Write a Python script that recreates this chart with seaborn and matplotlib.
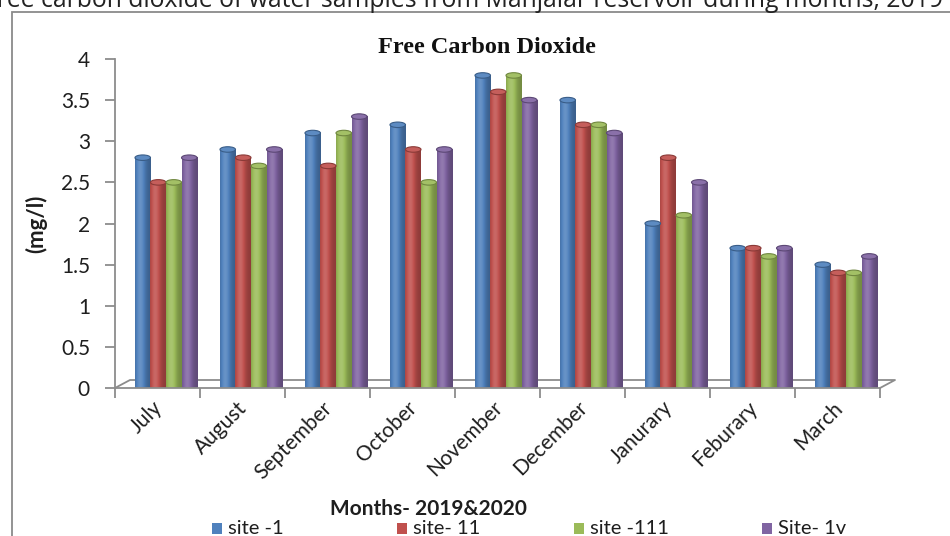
import numpy as np
import pandas as pd
import seaborn as sns
import matplotlib
matplotlib.use("Agg")
import matplotlib.pyplot as plt
from matplotlib.patches import Ellipse, Rectangle
from matplotlib.lines import Line2D
from matplotlib.colors import to_rgb

# ---- data -------------------------------------------------------------
months = ["July", "August", "September", "October", "November",
          "December", "Janurary", "Feburary", "March"]
sites = ["site -1", "site- 11", "site -111", "Site- 1v"]
site_1 = [2.8, 2.9, 3.1, 3.2, 3.8, 3.5, 2.0, 1.7, 1.5]
site_11 = [2.5, 2.8, 2.7, 2.9, 3.6, 3.2, 2.8, 1.7, 1.4]
site_111 = [2.5, 2.7, 3.1, 2.5, 3.8, 3.2, 2.1, 1.6, 1.4]
site_1v = [2.8, 2.9, 3.3, 2.9, 3.5, 3.1, 2.5, 1.7, 1.6]
y_ticks = [0, 0.5, 1, 1.5, 2, 2.5, 3, 3.5, 4]
y_tick_labels = ["0", "0.5", "1", "1.5", "2", "2.5", "3", "3.5", "4"]
palette = ["#4F81BD", "#C0504D", "#9BBB59", "#8064A2"]

df = pd.DataFrame({
    "month": months * 4,
    "site": np.repeat(sites, len(months)),
    "value": site_1 + site_11 + site_111 + site_1v,
})

sns.set_theme(style="white")
plt.rcParams["font.family"] = ["Lato", "DejaVu Sans"]

W, H = 950, 536
fig = plt.figure(figsize=(W / 100, H / 100), dpi=100)
fig.patch.set_facecolor("white")
ink = "#1e1e1e"

# caption line running above the chart frame
fig.text(-16 / W, 1 - 7 / H,
         "Free carbon dioxide of water samples from Manjalar reservoir during months, 2019",
         family=["Open Sans", "DejaVu Sans"], fontsize=17.8, color="#222222",
         ha="left", va="baseline")

# chart frame
fig.patches.append(Rectangle((12 / W, -0.2), 1.2, (H - 12) / H + 0.2,
                             transform=fig.transFigure, fill=False,
                             ec="#8a8a8a", lw=1.3))

ax = fig.add_axes([115 / W, (H - 388) / H, 765 / W, (388 - 59) / H])
sns.barplot(data=df, x="month", y="value", hue="site", palette=palette,
            width=0.73, saturation=1, legend=False, ax=ax, zorder=3)

XL = (-0.6, 8.4)
YL = (0, 4)
ax.set_xlim(*XL)
ax.set_ylim(*YL)

px_x = 85.0                # pixels per category
px_y = (388 - 59) / 4.0    # pixels per unit


def shade(base, f):
    base = np.array(to_rgb(base))
    if f < 1:
        return base * f
    return base + (1 - base) * (f - 1)


# cylinder shading on each bar
t = np.linspace(0, 1, 64)
prof = 0.74 + 0.40 * np.exp(-((t - 0.33) / 0.33) ** 2)
for p in list(ax.patches):
    x0, w, h = p.get_x(), p.get_width(), p.get_height()
    if w == 0:
        continue
    base = p.get_facecolor()[:3]
    p.set_edgecolor("none")
    img = np.array([[shade(base, f) for f in prof]])
    ax.imshow(img, extent=(x0, x0 + w, 0, h), aspect="auto",
              interpolation="bilinear", zorder=3.1)
    eh = 5.5 / px_y
    ax.add_patch(Ellipse((x0 + w / 2, h), w, eh, fc=shade(base, 1.08),
                         ec=shade(base, 0.72), lw=0.8, zorder=3.2))
    ax.add_patch(Ellipse((x0 + w / 2, 0), w, eh, fc=shade(base, 0.85),
                         ec="none", zorder=3.0))

ax.set_xlim(*XL)
ax.set_ylim(*YL)

# floor of the 3-D plot
grey = "#8c8c8c"
dx, dy = 15 / px_x, 8 / px_y
ax.add_line(Line2D([XL[0], XL[0] + dx, XL[1] + dx, XL[1]], [0, dy, dy, 0],
                   color=grey, lw=1.3, clip_on=False, zorder=1))

for s in ["top", "right"]:
    ax.spines[s].set_visible(False)
for s in ["left", "bottom"]:
    ax.spines[s].set_color(grey)
    ax.spines[s].set_linewidth(1.3)
    ax.spines[s].set_zorder(4)

ax.set_yticks(y_ticks)
ax.set_yticklabels(y_tick_labels, fontsize=15, color=ink)
ax.tick_params(axis="y", direction="out", length=7, width=1.3, color=grey,
               pad=11, left=True)

centers = np.arange(len(months)) - 0.08
bounds = np.arange(len(months) + 1) - 0.6
ax.set_xticks(centers)
ax.set_xticklabels(months, rotation=45, ha="right", va="center",
                   rotation_mode="anchor", fontsize=15, color=ink)
ax.tick_params(axis="x", which="major", length=0, pad=12)
ax.set_xticks(bounds, minor=True)
ax.tick_params(axis="x", which="minor", direction="out", length=7,
               width=1.3, color=grey, bottom=True)

ax.set_xlabel("")
ax.set_ylabel("(mg/l)", fontsize=16, fontweight="bold", color=ink)
ax.yaxis.set_label_coords(-68 / 765, 0.5)

ax.set_title("Free Carbon Dioxide", family=["Liberation Serif"],
             fontsize=17.5, fontweight="bold", pad=4, x=(487 - 115) / 765,
             color="#111111")

fig.text(428 / W, 1 - 509 / H, "Months- 2019&2020", fontsize=15,
         fontweight="bold", ha="center", va="center", color=ink)

# legend row along the bottom edge
legend_x = [212, 397, 574, 762]
for lx, name, col in zip(legend_x, sites, palette):
    fig.patches.append(Rectangle((lx / W, 1 - 534 / H), 10 / W, 11 / H,
                                 transform=fig.transFigure, fc=col, ec="none"))
    fig.text((lx + 16) / W, 1 - 529 / H, name, fontsize=14.5, color=ink,
             ha="left", va="center")

fig.savefig("out.png", dpi=100, facecolor="white")
